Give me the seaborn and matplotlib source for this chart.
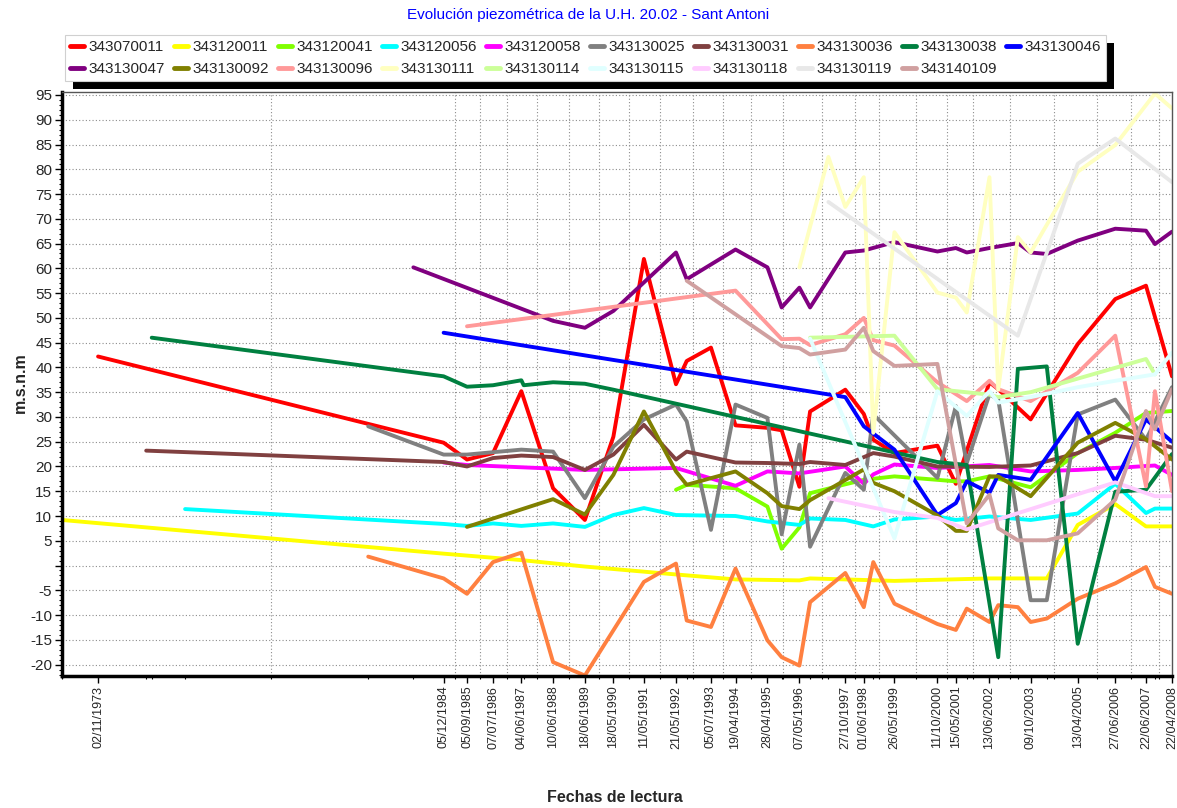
import numpy as np
import pandas as pd
import matplotlib
matplotlib.use("Agg")
import matplotlib.pyplot as plt
import matplotlib.dates as mdates
from matplotlib.lines import Line2D
from matplotlib.patches import Rectangle
from matplotlib.ticker import FixedLocator, FuncFormatter, MultipleLocator
import seaborn as sns

TITLE = "Evolución piezométrica de la U.H. 20.02 - Sant Antoni"
Y_LABEL = "m.s.n.m"
X_LABEL = "Fechas de lectura"
DATE_FMT = "%d/%m/%Y"

# Labelled reading dates on the time axis
tick_dates = ["02/11/1973", "05/12/1984", "05/09/1985", "07/07/1986", "04/06/1987",
              "10/06/1988", "18/06/1989", "18/05/1990", "11/05/1991", "21/05/1992",
              "05/07/1993", "19/04/1994", "28/04/1995", "07/05/1996", "27/10/1997",
              "01/06/1998", "26/05/1999", "11/10/2000", "15/05/2001", "13/06/2002",
              "09/10/2003", "13/04/2005", "27/06/2006", "22/06/2007", "22/04/2008"]

points = ["343070011", "343120011", "343120041", "343120056", "343120058",
          "343130025", "343130031", "343130036", "343130038", "343130046",
          "343130047", "343130092", "343130096", "343130111", "343130114",
          "343130115", "343130118", "343130119", "343140109"]

colors = ["#FF0000", "#FFFF00", "#80FF00", "#00FFFF", "#FF00FF",
          "#808080", "#804040", "#FF8040", "#008040", "#0000FF",
          "#800080", "#808000", "#FF9999", "#FFFFC0", "#CCFF99",
          "#E0FFFF", "#FFCCFF", "#E8E8E8", "#D0A0A0"]

# Piezometric readings (m.s.n.m) per observation point
d_343070011 = ["02/11/1973", "05/12/1984", "05/09/1985", "07/07/1986", "04/06/1987", "10/06/1988",
               "18/06/1989", "18/05/1990", "11/05/1991", "21/05/1992", "24/09/1992", "05/07/1993",
               "19/04/1994", "28/04/1995", "12/10/1995", "07/05/1996", "09/09/1996", "27/10/1997",
               "01/06/1998", "20/09/1998", "26/05/1999", "11/10/2000", "15/05/2001", "13/06/2002",
               "24/09/2002", "09/10/2003", "13/04/2005", "27/06/2006", "22/06/2007", "22/04/2008"]
v_343070011 = [42.2, 24.8, 21.4, 22.7, 35.2, 15.6, 9.2, 26.0, 61.9, 36.6, 41.3, 44.0, 28.3, 27.8, 27.3,
               15.9, 31.1, 35.5, 30.6, 25.4, 22.7, 24.2, 16.5, 37.0, 35.6, 29.5, 44.7, 53.8, 56.5, 38.2]

d_343120011 = ["05/09/1972", "05/12/1984", "04/06/1987", "18/06/1989", "21/05/1992", "19/04/1994",
               "07/05/1996", "09/09/1996", "27/10/1997", "26/05/1999", "13/06/2002", "15/04/2004",
               "13/04/2005", "27/06/2006", "22/06/2007", "22/04/2008"]
v_343120011 = [9.2, 2.4, 1.1, -0.2, -1.8, -2.8, -3.0, -2.6, -2.8, -3.1, -2.6, -2.6, 8.2, 12.4, 7.9, 7.9]

d_343120041 = ["21/05/1992", "24/09/1992", "19/04/1994", "28/04/1995", "12/10/1995", "07/05/1996",
               "09/09/1996", "27/10/1997", "01/06/1998", "26/05/1999", "11/10/2000", "15/05/2001",
               "20/09/2001", "13/06/2002", "09/10/2003", "13/04/2005", "27/06/2006", "22/06/2007",
               "22/04/2008"]
v_343120041 = [15.3, 16.3, 15.6, 11.9, 3.4, 7.7, 14.6, 16.4, 17.3, 18.0, 17.3, 17.0, 17.0, 18.0, 15.8,
               22.7, 26.8, 30.8, 31.2]

d_343120056 = ["18/08/1976", "05/12/1984", "05/09/1985", "07/07/1986", "04/06/1987", "10/06/1988",
               "18/06/1989", "18/05/1990", "11/05/1991", "21/05/1992", "19/04/1994", "28/04/1995",
               "07/05/1996", "09/09/1996", "27/10/1997", "20/09/1998", "26/05/1999", "11/10/2000",
               "15/05/2001", "13/06/2002", "09/10/2003", "13/04/2005", "27/06/2006", "22/06/2007",
               "05/10/2007", "22/04/2008"]
v_343120056 = [11.4, 8.4, 8.0, 8.5, 8.0, 8.5, 7.8, 10.2, 11.6, 10.2, 10.0, 8.9, 8.2, 9.5, 9.2, 7.9,
               9.3, 9.9, 9.2, 9.9, 9.2, 10.5, 16.5, 10.6, 11.5, 11.5]

d_343120058 = ["05/12/1984", "05/09/1985", "18/06/1989", "21/05/1992", "19/04/1994", "28/04/1995",
               "07/05/1996", "27/10/1997", "01/06/1998", "20/09/1998", "26/05/1999", "11/10/2000",
               "13/06/2002", "09/10/2003", "13/04/2005", "27/06/2006", "05/10/2007", "22/04/2008"]
v_343120058 = [20.8, 20.3, 19.3, 19.7, 16.1, 19.0, 18.6, 20.0, 16.5, 18.4, 20.4, 19.7, 20.3, 19.0,
               19.3, 19.7, 20.2, 18.3]

d_343130025 = ["05/07/1982", "05/12/1984", "05/09/1985", "04/06/1987", "10/06/1988", "18/06/1989",
               "18/05/1990", "11/05/1991", "21/05/1992", "24/09/1992", "05/07/1993", "19/04/1994",
               "28/04/1995", "12/10/1995", "07/05/1996", "09/09/1996", "27/10/1997", "01/06/1998",
               "20/09/1998", "11/10/2000", "15/05/2001", "20/09/2001", "13/06/2002", "24/09/2002",
               "09/10/2003", "15/04/2004", "13/04/2005", "27/06/2006", "22/06/2007", "22/04/2008"]
v_343130025 = [28.1, 22.4, 22.4, 23.4, 23.0, 13.6, 24.0, 29.5, 32.5, 29.1, 7.2, 32.5, 29.8, 6.3, 24.4,
               3.8, 18.7, 15.3, 30.5, 17.7, 32.2, 20.7, 34.6, 33.5, -7.0, -7.0, 30.5, 33.5, 25.4, 36.0]

d_343130031 = ["20/05/1975", "05/12/1984", "05/09/1985", "07/07/1986", "04/06/1987", "10/06/1988",
               "18/06/1989", "18/05/1990", "11/05/1991", "21/05/1992", "24/09/1992", "19/04/1994",
               "28/04/1995", "07/05/1996", "09/09/1996", "27/10/1997", "20/09/1998", "26/05/1999",
               "11/10/2000", "13/06/2002", "09/10/2003", "13/04/2005", "27/06/2006", "22/06/2007",
               "22/04/2008"]
v_343130031 = [23.2, 20.9, 20.0, 21.7, 22.2, 21.9, 19.3, 22.4, 28.4, 21.4, 23.0, 20.8, 20.7, 20.5,
               20.9, 20.3, 22.7, 22.0, 20.0, 19.9, 20.2, 22.7, 26.2, 25.4, 23.8]

d_343130036 = ["05/07/1982", "05/12/1984", "05/09/1985", "07/07/1986", "04/06/1987", "10/06/1988",
               "18/06/1989", "11/05/1991", "21/05/1992", "24/09/1992", "05/07/1993", "19/04/1994",
               "28/04/1995", "12/10/1995", "07/05/1996", "09/09/1996", "27/10/1997", "01/06/1998",
               "20/09/1998", "26/05/1999", "11/10/2000", "15/05/2001", "20/09/2001", "13/06/2002",
               "24/09/2002", "12/05/2003", "09/10/2003", "15/04/2004", "13/04/2005", "27/06/2006",
               "22/06/2007", "05/10/2007", "22/04/2008"]
v_343130036 = [1.8, -2.6, -5.7, 0.7, 2.6, -19.5, -22.2, -3.3, 0.4, -11.1, -12.4, -0.6, -15.1, -18.5,
               -20.2, -7.4, -1.5, -8.4, 0.7, -7.7, -11.8, -13.0, -8.7, -11.4, -8.0, -8.4, -11.4,
               -10.7, -6.7, -3.6, -0.3, -4.3, -5.7]

d_343130038 = ["24/07/1975", "05/12/1984", "05/09/1985", "07/07/1986", "04/06/1987", "02/07/1987",
               "10/06/1988", "18/06/1989", "18/05/1990", "11/10/2000", "20/09/2001", "24/09/2002",
               "12/05/2003", "15/04/2004", "13/04/2005", "27/06/2006", "22/06/2007", "22/04/2008"]
v_343130038 = [46.0, 38.2, 36.1, 36.4, 37.4, 36.4, 37.0, 36.7, 35.5, 20.9, 20.3, -18.5, 39.7, 40.2,
               -15.8, 14.9, 15.3, 22.5]

d_343130046 = ["05/12/1984", "27/10/1997", "01/06/1998", "26/05/1999", "11/10/2000", "15/05/2001",
               "20/09/2001", "13/06/2002", "24/09/2002", "09/10/2003", "13/04/2005", "27/06/2006",
               "22/06/2007", "22/04/2008"]
v_343130046 = [47.0, 34.0, 28.1, 23.4, 10.2, 12.6, 17.0, 14.7, 18.3, 17.3, 30.8, 17.0, 29.5, 25.0]

d_343130047 = ["16/12/1983", "10/06/1988", "18/06/1989", "18/05/1990", "21/05/1992", "24/09/1992",
               "19/04/1994", "28/04/1995", "12/10/1995", "07/05/1996", "09/09/1996", "27/10/1997",
               "01/06/1998", "26/05/1999", "11/10/2000", "15/05/2001", "20/09/2001", "13/06/2002",
               "12/05/2003", "09/10/2003", "15/04/2004", "13/04/2005", "27/06/2006", "22/06/2007",
               "05/10/2007", "22/04/2008"]
v_343130047 = [60.2, 49.4, 48.0, 51.4, 63.2, 57.8, 63.8, 60.2, 52.1, 56.1, 52.1, 63.2, 63.6, 65.3,
               63.4, 64.1, 63.2, 64.1, 65.1, 63.2, 62.9, 65.6, 68.0, 67.6, 64.9, 67.4]

d_343130092 = ["05/09/1985", "10/06/1988", "18/06/1989", "18/05/1990", "11/05/1991", "21/05/1992",
               "24/09/1992", "19/04/1994", "28/04/1995", "12/10/1995", "07/05/1996", "09/09/1996",
               "01/06/1998", "20/09/1998", "26/05/1999", "11/10/2000", "15/05/2001", "20/09/2001",
               "13/06/2002", "24/09/2002", "09/10/2003", "13/04/2005", "27/06/2006", "22/06/2007",
               "22/04/2008"]
v_343130092 = [7.8, 13.4, 10.3, 18.3, 31.1, 19.0, 16.3, 19.0, 14.6, 12.0, 11.4, 13.2, 19.4, 16.7,
               15.0, 10.1, 7.0, 7.0, 18.0, 18.0, 14.0, 24.8, 28.8, 25.5, 21.4]

d_343130096 = ["05/09/1985", "19/04/1994", "12/10/1995", "07/05/1996", "09/09/1996", "27/10/1997",
               "01/06/1998", "20/09/1998", "26/05/1999", "11/10/2000", "20/09/2001", "13/06/2002",
               "24/09/2002", "09/10/2003", "13/04/2005", "27/06/2006", "22/06/2007", "05/10/2007",
               "22/04/2008"]
v_343130096 = [48.3, 55.5, 45.7, 45.8, 44.5, 46.7, 50.0, 45.5, 44.4, 37.0, 33.2, 37.3, 35.6, 33.2,
               38.9, 46.4, 16.0, 35.2, 15.0]

d_343130111 = ["07/05/1996", "12/04/1997", "27/10/1997", "01/06/1998", "20/09/1998", "26/05/1999",
               "11/10/2000", "15/05/2001", "20/09/2001", "13/06/2002", "24/09/2002", "12/05/2003",
               "09/10/2003", "13/04/2005", "27/06/2006", "05/10/2007", "22/04/2008"]
v_343130111 = [60.2, 82.5, 72.4, 78.4, 26.8, 67.3, 55.1, 54.1, 51.1, 78.4, 35.5, 66.3, 63.2, 79.5,
               84.9, 95.3, 92.3]

d_343130114 = ["09/09/1996", "26/05/1999", "11/10/2000", "13/06/2002", "24/09/2002", "09/10/2003",
               "22/06/2007", "05/10/2007"]
v_343130114 = [46.0, 46.4, 35.6, 34.5, 34.0, 35.0, 41.7, 38.6]

d_343130115 = ["09/09/1996", "26/05/1999", "11/10/2000", "20/09/2001", "13/06/2002", "24/09/2002",
               "09/10/2003", "13/04/2005", "27/06/2006", "05/10/2007", "22/04/2008"]
v_343130115 = [45.8, 5.5, 35.2, 30.2, 35.2, 32.9, 34.0, 36.0, 37.3, 38.6, 43.0]

d_343130118 = ["12/04/1997", "26/05/1999", "11/10/2000", "20/09/2001", "27/06/2006", "05/10/2007",
               "22/04/2008"]
v_343130118 = [13.6, 10.8, 9.6, 7.3, 16.8, 14.0, 14.0]

d_343130119 = ["12/04/1997", "12/05/2003", "13/04/2005", "27/06/2006", "22/04/2008"]
v_343130119 = [73.4, 46.4, 81.1, 86.2, 77.4]

d_343140109 = ["24/09/1992", "12/10/1995", "07/05/1996", "09/09/1996", "27/10/1997", "01/06/1998",
               "20/09/1998", "26/05/1999", "11/10/2000", "20/09/2001", "13/06/2002", "24/09/2002",
               "12/05/2003", "15/04/2004", "13/04/2005", "27/06/2006", "22/06/2007", "05/10/2007",
               "22/04/2008"]
v_343140109 = [57.5, 44.3, 43.9, 42.6, 43.6, 48.0, 43.3, 40.3, 40.7, 8.5, 14.3, 7.5, 5.1, 5.1, 6.5,
               13.3, 31.2, 27.5, 35.6]

date_lists = [d_343070011, d_343120011, d_343120041, d_343120056, d_343120058, d_343130025,
              d_343130031, d_343130036, d_343130038, d_343130046, d_343130047, d_343130092,
              d_343130096, d_343130111, d_343130114, d_343130115, d_343130118, d_343130119,
              d_343140109]
value_lists = [v_343070011, v_343120011, v_343120041, v_343120056, v_343120058, v_343130025,
               v_343130031, v_343130036, v_343130038, v_343130046, v_343130047, v_343130092,
               v_343130096, v_343130111, v_343130114, v_343130115, v_343130118, v_343130119,
               v_343140109]

frames = []
for name, d, v in zip(points, date_lists, value_lists):
    frames.append(pd.DataFrame({"fecha": pd.to_datetime(d, format=DATE_FMT),
                                "nivel": v, "punto": name}))
df = pd.concat(frames, ignore_index=True)

sns.set_style("white")
plt.rcParams["font.family"] = ["Liberation Sans", "DejaVu Sans"]

W, H = 1177, 808
fig = plt.figure(figsize=(W / 100, H / 100), dpi=100)
ax = fig.add_axes([62 / W, 1 - 676 / H, (1172 - 62) / W, (676 - 92) / H])

sns.lineplot(data=df, x="fecha", y="nivel", hue="punto", hue_order=points,
             palette=dict(zip(points, colors)), estimator=None, sort=False,
             linewidth=2.8, legend=False, ax=ax)

# Time axis
tick_ts = pd.to_datetime(tick_dates, format=DATE_FMT)
tick_num = mdates.date2num(tick_ts)
all_dates = pd.to_datetime(sorted(set(sum(date_lists, []))), format=DATE_FMT)
ax.set_xlim(mdates.date2num(all_dates.min()), tick_num[-1])
ax.set_xticks(tick_num)
ax.set_xticklabels(tick_dates, rotation=90, fontsize=9)
mids = (tick_num[:-1] + tick_num[1:]) / 2
ax.xaxis.set_minor_locator(FixedLocator(np.concatenate([mdates.date2num(all_dates), mids])))
for m in mids:
    ax.axvline(m, color="#8c8c8c", lw=0.8, ls=(0, (1, 2)), zorder=0.5)

# Level axis
ax.set_ylim(-22.3, 95.6)
ax.set_yticks(np.arange(-20, 96, 5))
ax.yaxis.set_major_formatter(FuncFormatter(lambda v, p: "" if abs(v) < 1e-9 else f"{v:g}"))
ax.yaxis.set_minor_locator(MultipleLocator(1))
ax.tick_params(axis="y", which="major", labelsize=11)
ax.yaxis.grid(True, color="#8c8c8c", lw=0.8, ls=(0, (1, 2)))
ax.xaxis.grid(False)
ax.set_axisbelow(True)
ax.tick_params(axis="both", which="major", direction="out", length=5, width=1,
               color="black", pad=2, left=True, bottom=True)
ax.tick_params(axis="both", which="minor", direction="out", length=2.5, width=0.8,
               color="black", left=True, bottom=True)
ax.set_xlabel("")
ax.set_ylabel("")

for side in ("left", "bottom"):
    ax.spines[side].set_linewidth(2.5)
    ax.spines[side].set_color("black")
for side in ("top", "right"):
    ax.spines[side].set_linewidth(1.0)
    ax.spines[side].set_color("#555555")

fig.text(0.5, 1 - 15 / H, TITLE, ha="center", va="center", color="#0000FF", fontsize=11)
fig.text(20 / W, 1 - 383 / H, Y_LABEL, rotation=90, ha="center", va="center",
         fontsize=11.5, fontweight="bold")
fig.text(615 / W, 1 - 797 / H, X_LABEL, ha="center", va="center",
         fontsize=11.5, fontweight="bold")

# Legend laid out row by row over ten columns
handles = [Line2D([0], [0], color=c, lw=3.5, solid_capstyle="round") for c in colors]
order = [i for pair in zip(range(9), range(10, 19)) for i in pair] + [9]
leg = fig.legend([handles[i] for i in order], [points[i] for i in order], ncol=10,
                 loc="upper left", bbox_to_anchor=(65 / W, 1 - 35 / H), frameon=True,
                 fancybox=False, edgecolor="#d0d0d0", facecolor="white", framealpha=1,
                 fontsize=11, handlelength=0.9, handletextpad=0.3, columnspacing=0.6,
                 labelspacing=0.5, borderpad=0.35, borderaxespad=0)
leg.get_frame().set_linewidth(0.8)
leg.set_zorder(5)

fig.canvas.draw()
bb = leg.get_window_extent()
inv = fig.transFigure.inverted()
(x0, y0), (x1, y1) = inv.transform([[bb.x0 + 8, bb.y0 - 8], [bb.x1 + 8, bb.y1 - 8]])
fig.patches.append(Rectangle((x0, y0), x1 - x0, y1 - y0, transform=fig.transFigure,
                             facecolor="black", edgecolor="none", zorder=4))

fig.savefig("out.png", dpi=100)
